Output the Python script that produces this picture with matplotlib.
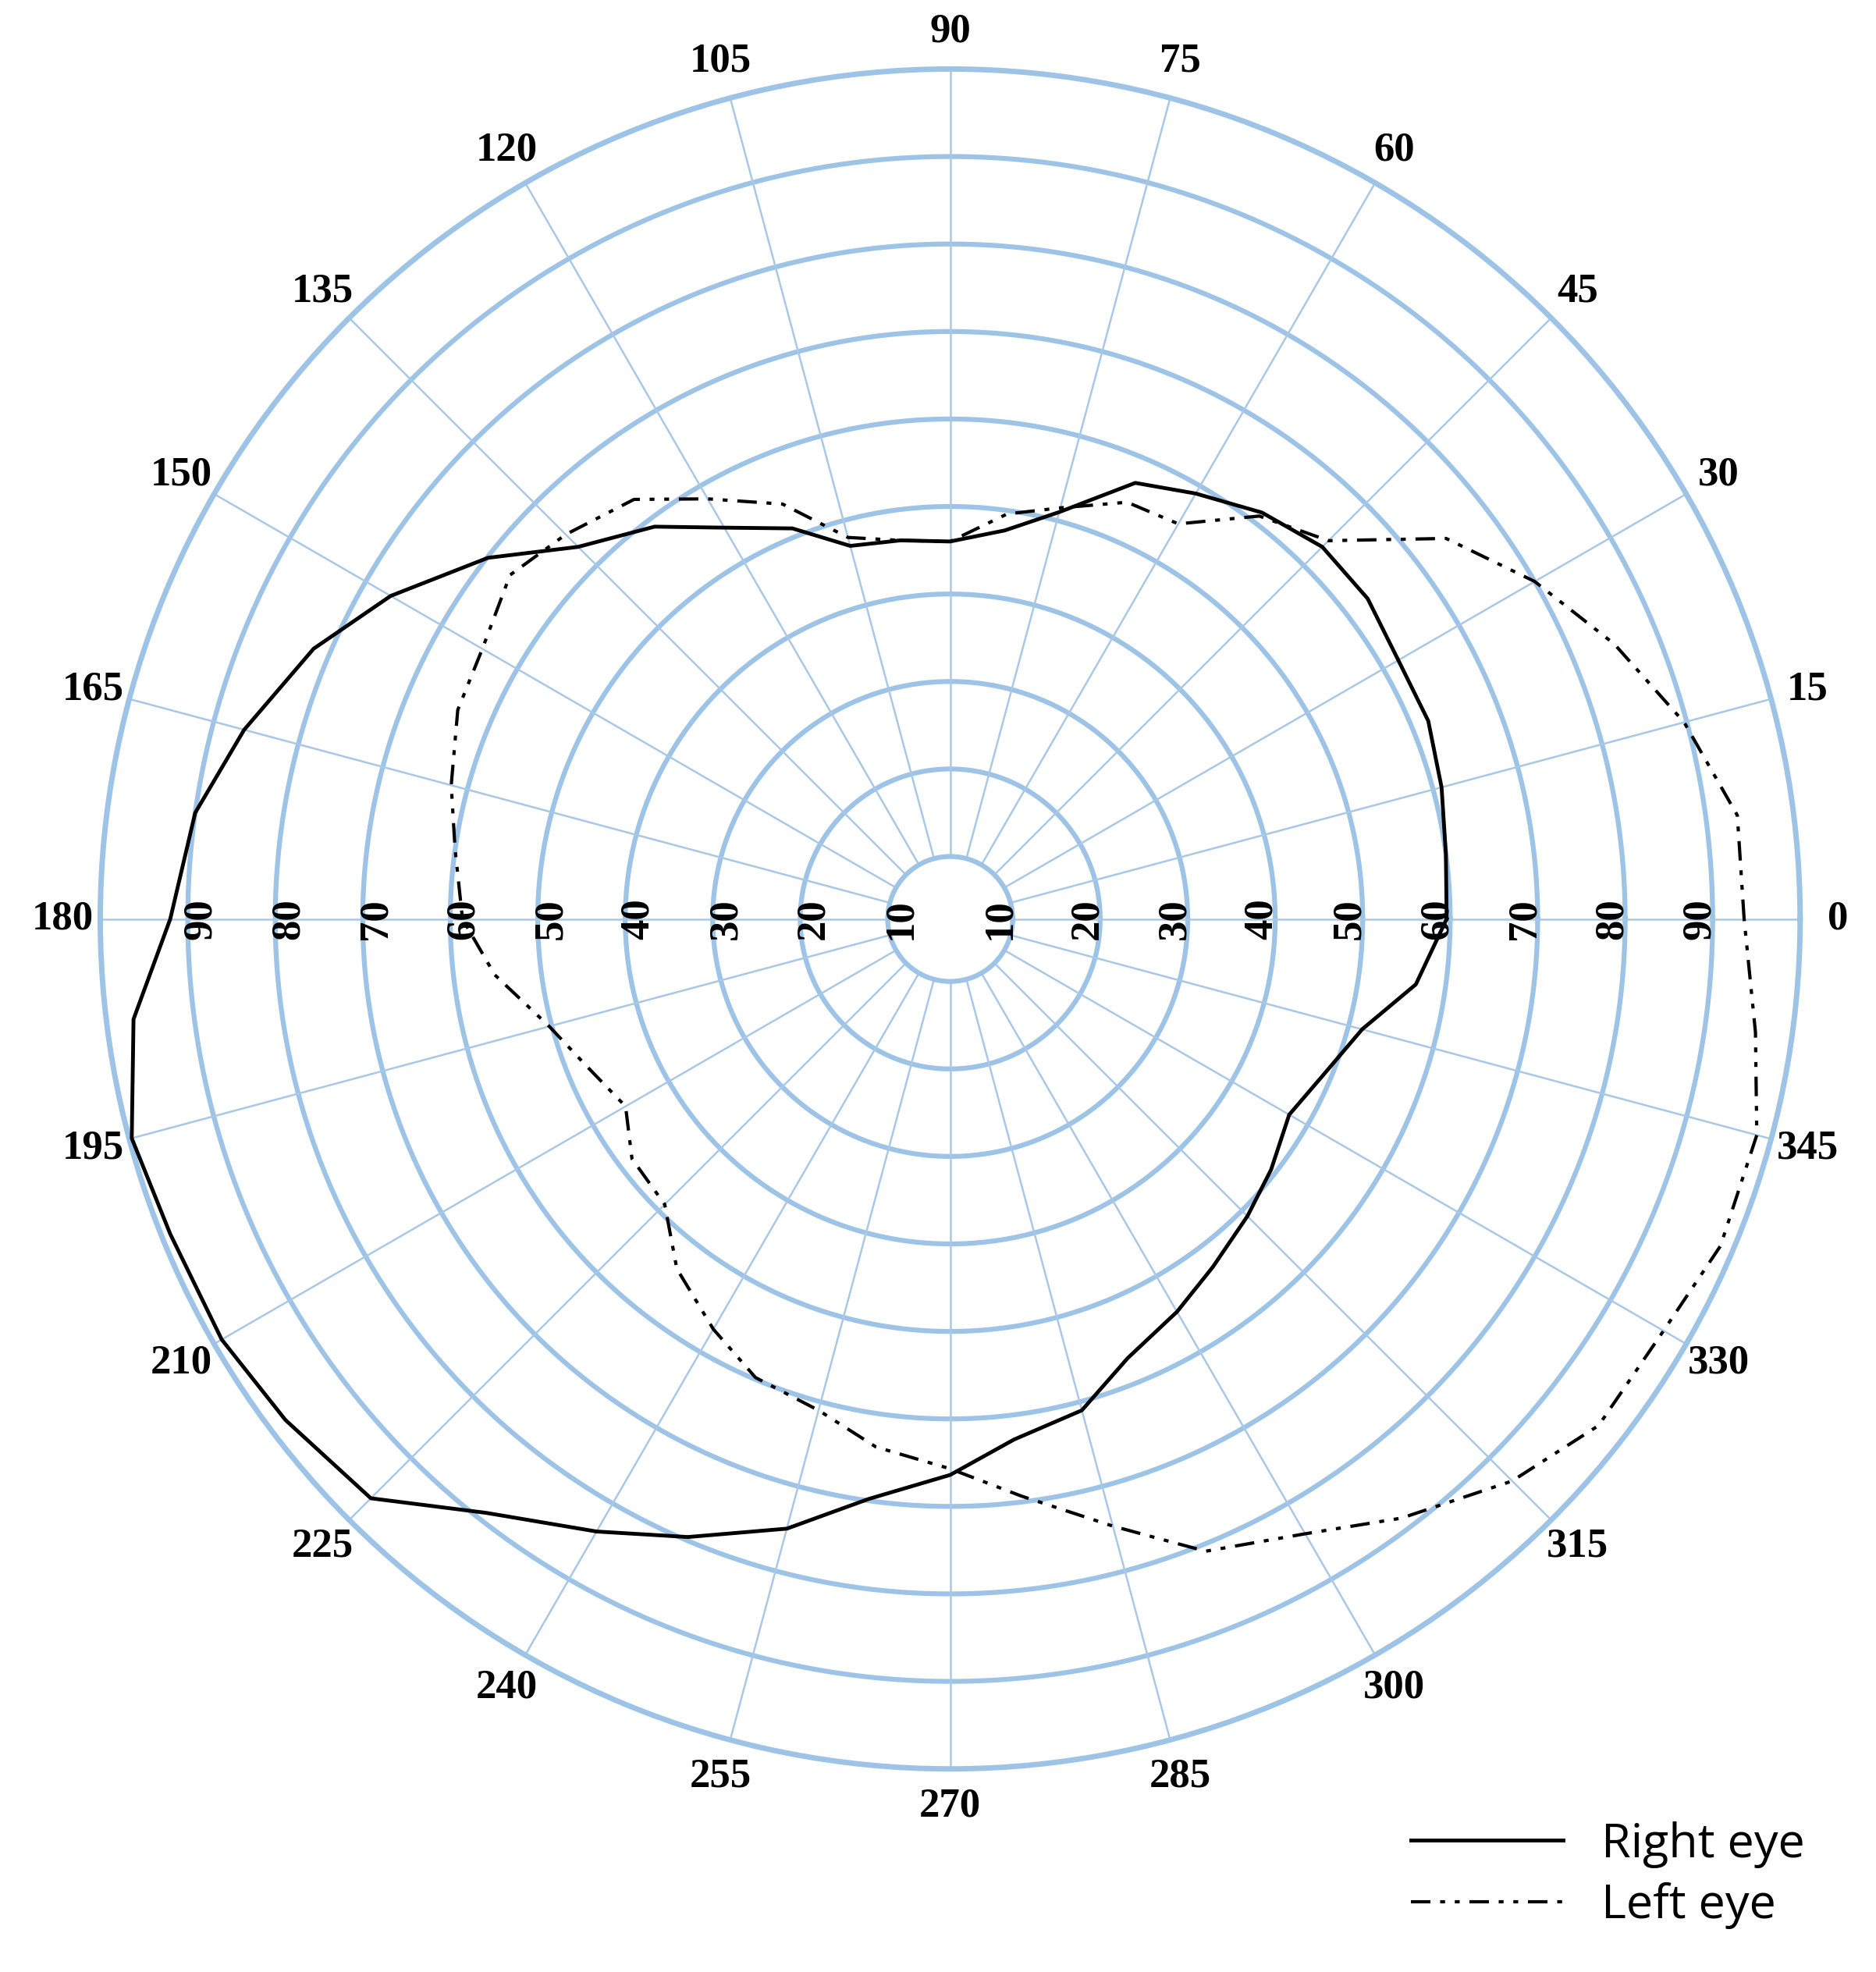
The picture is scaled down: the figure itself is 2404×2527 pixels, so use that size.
import numpy as np
import matplotlib.pyplot as plt

# angles in degrees, radii
ANGLES = [0, 7.5, 15, 22.5, 30, 37.5, 45, 52.5, 60, 67, 75, 82, 90, 97.5,
          105, 112, 120, 127, 135, 142, 150, 157, 165, 172, 180, 187, 195,
          202, 210, 217, 225, 232, 240, 247, 255, 262, 270, 277, 285, 292,
          300, 307, 315, 322, 330, 337, 345, 352, 360]
RIGHT_EYE = [59.6, 60, 61, 62, 62, 63, 63, 61.4, 59, 57, 51, 47.7, 46, 46.5,
             47, 51, 54.5, 59, 63, 69.9, 76.7, 81.9, 86.4, 90, 92, 96.9, 99.7,
             99, 99, 98, 96.5, 89, 83.7, 79.6, 75, 69.8, 66.4, 62.8, 61, 57,
             54.7, 52.7, 50.9, 49.4, 47.6, 49, 51.6, 56.6, 59.6]
LEFT_EYE = [93.6, 93.6, 89.7, 85, 80, 74.3, 64, 60.9, 55, 54.6, 51.5, 49.6, 46, 46.5,
            48, 54, 58.3, 62.9, 65, 66.7, 64.6, 64, 61.9, 60, 58.6, 55.3, 50.3,
            47.7, 45.7, 48.4, 49, 53.6, 57, 59.8, 61, 63.8, 65.7, 69.3, 74.7, 80.8,
            84, 88.6, 93.7, 96.9, 97, 98.5, 98.3, 95.8, 93.6]
RING_TICKS = [10, 20, 30, 40, 50, 60, 70, 80, 90]
SPOKES = list(range(0, 360, 15))

BLUE = "#9dc3e6"
SPOKE = "#a9c8e8"

fig = plt.figure(figsize=(24.04, 25.27), dpi=100)
ax = fig.add_axes([0.053, 0.103, 0.907, 0.862], projection="polar")
ax.set_ylim(10, 100)
ax.set_rorigin(10 - 50 / 70 * 10)
ax.set_xticks([])
ax.set_yticks([])
ax.grid(False)
ax.spines["polar"].set_color(BLUE)
ax.spines["polar"].set_linewidth(5)
ax.spines["inner"].set_color(BLUE)
ax.spines["inner"].set_linewidth(4.5)

th = np.linspace(0, 2 * np.pi, 400)
for r in RING_TICKS[1:]:
    ax.plot(th, np.full_like(th, r), color=BLUE, lw=4.5, zorder=1)
for a in SPOKES:
    ax.plot([np.deg2rad(a)] * 2, [10, 100], color=SPOKE, lw=1.8, zorder=1)

serif = dict(family="Liberation Serif", fontweight="bold", fontsize=38)
for a in SPOKES:
    ax.text(np.deg2rad(a), 104.3, str(a), ha="center", va="center",
            clip_on=False, **serif)
for r in RING_TICKS:
    for a in (0, np.pi):
        ax.text(a, r - 1.5, str(r), rotation=90, ha="center", va="center",
                **serif)

ax.plot(np.deg2rad(ANGLES), RIGHT_EYE, color="black", lw=3.5, zorder=3,
        label="Right eye")
ax.plot(np.deg2rad(ANGLES), LEFT_EYE, color="black", lw=3, zorder=3,
        dashes=(6, 3, 1.5, 3, 1.5, 3), label="Left eye")

fig.legend(loc="lower right", bbox_to_anchor=(0.985, 0.0), frameon=False,
           prop={"family": "Open Sans", "size": 44}, handlelength=3.2,
           labelspacing=0.3)

fig.savefig("out.png", dpi=100, facecolor="white")
